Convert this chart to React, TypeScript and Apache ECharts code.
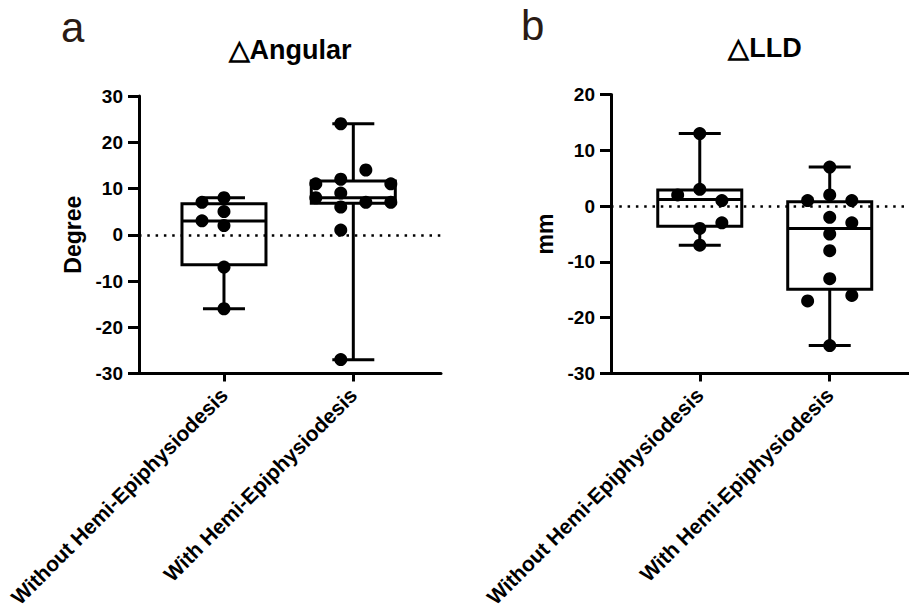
import React, { useEffect, useRef } from 'react';
import * as echarts from 'echarts';

// ---------- data ----------
const categories = ['Without Hemi-Epiphysiodesis', 'With Hemi-Epiphysiodesis'];
const categoryX = [1, 2];

// ΔAngular (Degree)
const angularWithoutPoints = [8, 7, 5, 3, 2, -7, -16];
const angularWithPoints = [24, 14, 12, 11, 11, 9, 8, 7, 7, 6, 1, -27];
// box stats: min, Q1, median, Q3, max
const angularWithoutBox = [-16, -6.5, 3, 6.7, 8];
const angularWithBox = [-27, 6.8, 8, 11.6, 24];

// ΔLLD (mm)
const lldWithoutPoints = [13, 3, 2, 1, -3, -4, -7];
const lldWithPoints = [7, 2, 1, 1, -2, -3, -5, -8, -13, -16, -17, -25];
const lldWithoutBox = [-7, -3.6, 1.2, 2.9, 13];
const lldWithBox = [-25, -14.9, -4, 0.8, 7];

// axis ticks
const angularTicks = { min: -30, max: 30, interval: 10 };
const lldTicks = { min: -30, max: 20, interval: 10 };

// beeswarm spread of the dots (fraction of category spacing) — layout only
const angularWithoutJitter = [0, -0.17, 0, -0.17, 0, 0, 0];
const angularWithJitter = [-0.097, 0.097, -0.097, -0.29, 0.29, -0.097, -0.29, 0.097, 0.29, -0.097, -0.097, -0.097];
const lldWithoutJitter = [0, 0, -0.17, 0.17, 0.17, 0, 0];
const lldWithJitter = [0, 0, -0.17, 0.17, 0, 0.17, 0, 0, 0, 0.17, -0.17, 0];

// ---------- styling ----------
const FONT = '"Liberation Sans", Arial, Helvetica, sans-serif';
const BOX_W = 84;
const CAP_W = 42;
const LW = 3;

function boxSeries(gridIdx: number, boxes: number[][]) {
  return {
    type: 'custom',
    xAxisIndex: gridIdx,
    yAxisIndex: gridIdx,
    silent: true,
    encode: { x: 0, y: [1, 2, 3, 4, 5] },
    data: boxes.map((b, i) => [categoryX[i], ...b]),
    renderItem: (_params: any, api: any) => {
      const x = api.value(0);
      const pMin = api.coord([x, api.value(1)]);
      const pQ1 = api.coord([x, api.value(2)]);
      const pMed = api.coord([x, api.value(3)]);
      const pQ3 = api.coord([x, api.value(4)]);
      const pMax = api.coord([x, api.value(5)]);
      const cx = pMed[0];
      const st = { stroke: '#000', lineWidth: LW, fill: 'none' };
      return {
        type: 'group',
        children: [
          { type: 'line', shape: { x1: cx, y1: pMax[1], x2: cx, y2: pQ3[1] }, style: st },
          { type: 'line', shape: { x1: cx, y1: pQ1[1], x2: cx, y2: pMin[1] }, style: st },
          { type: 'line', shape: { x1: cx - CAP_W / 2, y1: pMax[1], x2: cx + CAP_W / 2, y2: pMax[1] }, style: st },
          { type: 'line', shape: { x1: cx - CAP_W / 2, y1: pMin[1], x2: cx + CAP_W / 2, y2: pMin[1] }, style: st },
          { type: 'rect', shape: { x: cx - BOX_W / 2, y: pQ3[1], width: BOX_W, height: pQ1[1] - pQ3[1] }, style: st },
          { type: 'line', shape: { x1: cx - BOX_W / 2, y1: pMed[1], x2: cx + BOX_W / 2, y2: pMed[1] }, style: st },
        ],
      };
    },
    z: 2,
  };
}

function dotSeries(gridIdx: number, values: number[], jitter: number[], catIdx: number, withZero: boolean) {
  const s: any = {
    type: 'scatter',
    xAxisIndex: gridIdx,
    yAxisIndex: gridIdx,
    symbol: 'circle',
    symbolSize: 13,
    itemStyle: { color: '#000', opacity: 1 },
    silent: true,
    data: values.map((v, i) => [categoryX[catIdx] + jitter[i], v]),
    z: 3,
  };
  if (withZero) {
    s.markLine = {
      silent: true,
      symbol: ['none', 'none'],
      label: { show: false },
      lineStyle: { color: '#000', width: 2.5, type: [2.5, 5.8], opacity: 1 },
      data: [{ yAxis: 0 }],
      z: 1,
    };
  }
  return s;
}

function xAxisFor(gridIdx: number, min: number, max: number) {
  return {
    gridIndex: gridIdx,
    type: 'value',
    min,
    max,
    splitLine: { show: false },
    axisLine: { show: true, onZero: false, lineStyle: { color: '#000', width: LW } },
    axisTick: { show: true, customValues: categoryX, length: 8, lineStyle: { color: '#000', width: LW } },
    axisLabel: {
      customValues: categoryX,
      rotate: 45,
      margin: 18,
      color: '#000',
      fontWeight: 'bold',
      fontSize: 21,
      fontFamily: FONT,
      formatter: (v: number) => categories[Math.round(v) - 1] ?? '',
    },
  };
}

function yAxisFor(gridIdx: number, ticks: { min: number; max: number; interval: number }, name: string) {
  return {
    gridIndex: gridIdx,
    type: 'value',
    min: ticks.min,
    max: ticks.max,
    interval: ticks.interval,
    name,
    nameLocation: 'middle',
    nameGap: 55,
    nameRotate: 90,
    nameTextStyle: { color: '#000', fontWeight: 'bold', fontSize: 23, fontFamily: FONT },
    splitLine: { show: false },
    axisLine: { show: true, lineStyle: { color: '#000', width: LW } },
    axisTick: { show: true, length: 11, lineStyle: { color: '#000', width: LW } },
    axisLabel: { color: '#000', fontWeight: 'bold', fontSize: 19, fontFamily: FONT, margin: 16 },
  };
}

export default function App() {
  const ref = useRef<HTMLDivElement>(null);
  useEffect(() => {
    if (!ref.current) return;
    const chart = echarts.init(ref.current, undefined, { renderer: 'svg' });
    const option: any = {
      animation: false,
      backgroundColor: '#fff',
      grid: [
        { left: 139, top: 96, width: 302, height: 277.5 },
        { left: 611, top: 94.5, width: 298, height: 279 },
      ],
      xAxis: [xAxisFor(0, 0.343, 2.678), xAxisFor(1, 0.317, 2.61)],
      yAxis: [yAxisFor(0, angularTicks, 'Degree'), yAxisFor(1, lldTicks, 'mm')],
      graphic: [
        { type: 'text', left: 61, top: 6, style: { text: 'a', fontSize: 42, fontFamily: FONT, fill: '#2a1b14' } },
        { type: 'text', left: 521, top: 4, style: { text: 'b', fontSize: 42, fontFamily: FONT, fill: '#2a1b14' } },
        { type: 'text', x: 290, y: 50, style: { text: '△Angular', fontSize: 27, fontWeight: 'bold', fontFamily: FONT, fill: '#000', align: 'center', verticalAlign: 'middle' } },
        { type: 'text', x: 765, y: 48, style: { text: '△LLD', fontSize: 27, fontWeight: 'bold', fontFamily: FONT, fill: '#000', align: 'center', verticalAlign: 'middle' } },
      ],
      series: [
        boxSeries(0, [angularWithoutBox, angularWithBox]),
        boxSeries(1, [lldWithoutBox, lldWithBox]),
        dotSeries(0, angularWithoutPoints, angularWithoutJitter, 0, true),
        dotSeries(0, angularWithPoints, angularWithJitter, 1, false),
        dotSeries(1, lldWithoutPoints, lldWithoutJitter, 0, true),
        dotSeries(1, lldWithPoints, lldWithJitter, 1, false),
      ],
    };
    chart.setOption(option);
    return () => chart.dispose();
  }, []);
  return <div ref={ref} style={{ position: 'absolute', left: 0, top: 0, width: 909, height: 616 }} />;
}
